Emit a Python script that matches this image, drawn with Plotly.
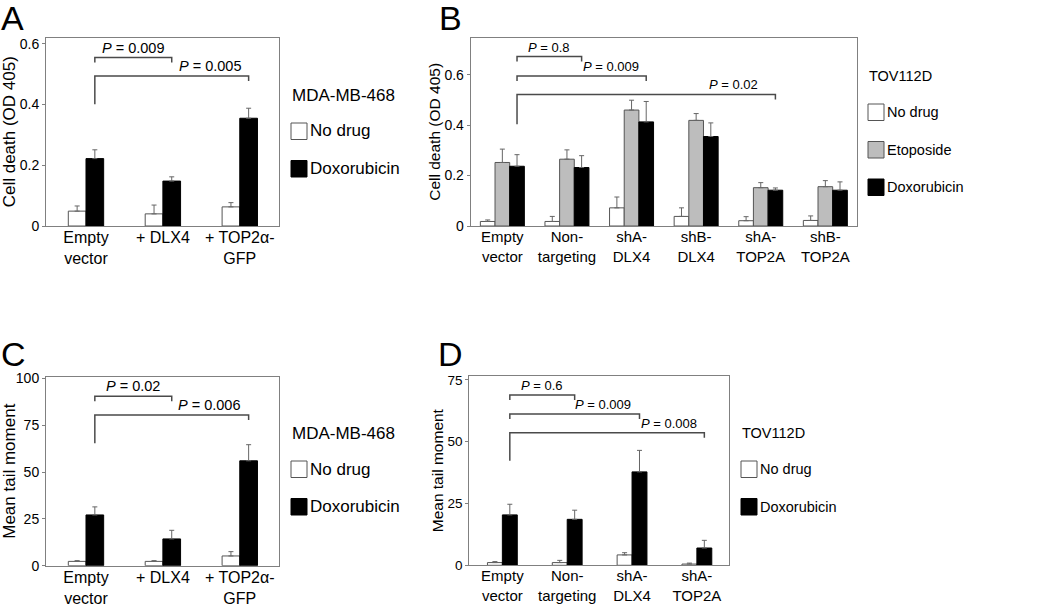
import plotly.graph_objects as go

FONT = "Liberation Sans, Arial, Helvetica, sans-serif"
W, H = 1050, 607

# ---------------- data ----------------
cats_A = ["Empty<br>vector", "+ DLX4", "+ TOP2α-<br>GFP"]
A_nodrug = [0.049, 0.040, 0.063]
A_nodrug_err = [0.017, 0.029, 0.014]
A_dox = [0.222, 0.148, 0.355]
A_dox_err = [0.029, 0.014, 0.033]

cats_B = ["Empty<br>vector", "Non-<br>targeting", "shA-<br>DLX4", "shB-<br>DLX4", "shA-<br>TOP2A", "shB-<br>TOP2A"]
B_nodrug = [0.018, 0.018, 0.072, 0.038, 0.021, 0.022]
B_nodrug_err = [0.006, 0.020, 0.043, 0.034, 0.016, 0.018]
B_etop = [0.252, 0.265, 0.460, 0.419, 0.152, 0.156]
B_etop_err = [0.053, 0.037, 0.039, 0.027, 0.020, 0.024]
B_dox = [0.237, 0.232, 0.413, 0.355, 0.142, 0.142]
B_dox_err = [0.046, 0.047, 0.081, 0.054, 0.009, 0.033]

cats_C = ["Empty<br>vector", "+ DLX4", "+ TOP2α-<br>GFP"]
C_nodrug = [2.3, 2.3, 5.2]
C_nodrug_err = [0.4, 0.4, 2.3]
C_dox = [27.1, 14.3, 56.0]
C_dox_err = [4.3, 4.6, 8.6]

cats_D = ["Empty<br>vector", "Non-<br>targeting", "shA-<br>DLX4", "shA-<br>TOP2A"]
D_nodrug = [1.1, 1.1, 4.2, 0.5]
D_nodrug_err = [0.4, 0.9, 0.9, 0.4]
D_dox = [20.4, 18.6, 37.8, 7.0]
D_dox_err = [4.3, 3.7, 8.7, 3.1]

# significance brackets: target category index, bracket level, p-value text
A_brk_targets = [1, 2]
A_brk_levels = [0.555, 0.494]
A_brk_p = ["0.009", "0.005"]
A_leg_low = 0.401

B_brk_targets = [1, 2, 4]
B_brk_levels = [0.672, 0.595, 0.522]
B_brk_p = ["0.8", "0.009", "0.02"]
B_leg_low = 0.404

C_brk_targets = [1, 2]
C_brk_levels = [90.4, 80.5]
C_brk_p = ["0.02", "0.006"]
C_leg_low = 65.4

D_brk_targets = [1, 2, 3]
D_brk_levels = [68.9, 61.2, 53.6]
D_brk_p = ["0.6", "0.009", "0.008"]
D_leg_low = 42.3

A_yticks = [0, 0.2, 0.4, 0.6]
A_yticktext = ["0", "0.2", "0.4", "0.6"]
B_yticks = [0, 0.2, 0.4, 0.6]
B_yticktext = ["0", "0.2", "0.4", "0.6"]
C_yticks = [0, 25, 50, 75, 100]
D_yticks = [0, 25, 50, 75]

legend_titles = {"A": "MDA-MB-468", "B": "TOV112D", "C": "MDA-MB-468", "D": "TOV112D"}

# ---------------- styling ----------------
COL_WHITE = "white"
COL_GREY = "#bdbdbd"
COL_BLACK = "black"
EDGE = "#555555"
FRAME = "#808080"
BRK = "#4a4a4a"


def px_x(p):
    return p / W


def px_y(p):
    return 1 - p / H


panels = {
    "A": dict(ax="", dom_x=(46, 279), dom_y=(37.5, 226), xr=(-0.52, 2.51), yr=(0, 0.621),
              leg=(291, 95), pshift=[0, -6], standoff=6,
              fs=dict(cat=16, ytitle=17, tick=14, p=14.5, legt=17, leg=17)),
    "B": dict(ax="2", dom_x=(470.7, 857), dom_y=(37.7, 226), xr=(-0.49, 5.49), yr=(0, 0.747),
              leg=(868, 76), pshift=[0, -5, -15], standoff=0,
              fs=dict(cat=15, ytitle=15.5, tick=14, p=13, legt=14.5, leg=14.5)),
    "C": dict(ax="3", dom_x=(46, 279), dom_y=(376.7, 565.7), xr=(-0.52, 2.51), yr=(0, 100.9),
              leg=(291, 433), pshift=[0, -7], standoff=6,
              fs=dict(cat=16, ytitle=17, tick=14, p=14.5, legt=17, leg=17)),
    "D": dict(ax="4", dom_x=(469.3, 729.3), dom_y=(376, 565.3), xr=(-0.51, 3.5), yr=(0, 76.6),
              leg=(741, 433), pshift=[0, -7, -5], standoff=0,
              fs=dict(cat=15, ytitle=15.5, tick=13.5, p=13, legt=14.5, leg=14.5)),
}

fig = go.Figure()
legend_entries = {}


def add_bars(panel, series, width):
    p = panels[panel]
    n = len(series)
    legend_entries[panel] = []
    for i, (name, vals, errs, color) in enumerate(series):
        xs = list(range(len(vals)))
        edge = EDGE if color != COL_BLACK else "black"
        fig.add_trace(go.Bar(
            x=xs, y=vals, name=name,
            xaxis="x" + p["ax"], yaxis="y" + p["ax"],
            width=width, offset=-n * width / 2 + i * width,
            marker=dict(color=color, line=dict(color=edge, width=1)),
            error_y=dict(type="data", symmetric=False, array=errs, arrayminus=[0] * len(vals),
                         color="#666666", thickness=1, width=2.5),
            showlegend=False, hoverinfo="skip",
        ))
        legend_entries[panel].append((name, color, edge))


add_bars("A", [("No drug", A_nodrug, A_nodrug_err, COL_WHITE),
               ("Doxorubicin", A_dox, A_dox_err, COL_BLACK)], 0.23)
add_bars("B", [("No drug", B_nodrug, B_nodrug_err, COL_WHITE),
               ("Etoposide", B_etop, B_etop_err, COL_GREY),
               ("Doxorubicin", B_dox, B_dox_err, COL_BLACK)], 0.227)
add_bars("C", [("No drug", C_nodrug, C_nodrug_err, COL_WHITE),
               ("Doxorubicin", C_dox, C_dox_err, COL_BLACK)], 0.23)
add_bars("D", [("No drug", D_nodrug, D_nodrug_err, COL_WHITE),
               ("Doxorubicin", D_dox, D_dox_err, COL_BLACK)], 0.23)


def add_brackets(panel, targets, levels, pvals, leg_low, ref_offset):
    p = panels[panel]
    xref = "x" + p["ax"]
    yref = "y" + p["ax"]
    h_px = p["dom_y"][1] - p["dom_y"][0]
    drop = 5 * (p["yr"][1] - p["yr"][0]) / h_px
    x0 = 0 + ref_offset
    pfont = dict(size=p["fs"]["p"], family=FONT, color="black")
    for k, (t, lvl, pv) in enumerate(zip(targets, levels, pvals)):
        x1 = t + ref_offset
        left_low = leg_low if k == len(targets) - 1 else lvl - drop
        path = f"M {x0},{left_low} L {x0},{lvl} L {x1},{lvl} L {x1},{lvl - drop}"
        fig.add_shape(type="path", path=path, xref=xref, yref=yref,
                      line=dict(color=BRK, width=1.5))
        if k == 0:
            fig.add_annotation(x=(x0 + x1) / 2, y=lvl, xref=xref, yref=yref,
                               text=f"<i>P</i> = {pv}", showarrow=False,
                               xanchor="center", yanchor="bottom", yshift=0, font=pfont)
        else:
            fig.add_annotation(x=x1, y=lvl, xref=xref, yref=yref,
                               text=f"<i>P</i> = {pv}", showarrow=False,
                               xanchor="right", yanchor="bottom", xshift=p["pshift"][k], yshift=0,
                               font=pfont)


add_brackets("A", A_brk_targets, A_brk_levels, A_brk_p, A_leg_low, 0.115)
add_brackets("B", B_brk_targets, B_brk_levels, B_brk_p, B_leg_low, 0.227)
add_brackets("C", C_brk_targets, C_brk_levels, C_brk_p, C_leg_low, 0.115)
add_brackets("D", D_brk_targets, D_brk_levels, D_brk_p, D_leg_low, 0.115)

layout = dict(
    width=W, height=H, margin=dict(l=0, r=0, t=0, b=0, autoexpand=False),
    paper_bgcolor="white", plot_bgcolor="white",
    barmode="overlay", showlegend=False, hovermode=False,
    font=dict(family=FONT, color="black", size=14),
)

cat_map = {"A": cats_A, "B": cats_B, "C": cats_C, "D": cats_D}
ytick_map = {"A": (A_yticks, A_yticktext), "B": (B_yticks, B_yticktext),
             "C": (C_yticks, [str(v) for v in C_yticks]), "D": (D_yticks, [str(v) for v in D_yticks])}
ytitle_map = {"A": "Cell death (OD 405)", "B": "Cell death (OD 405)",
              "C": "Mean tail moment", "D": "Mean tail moment"}

for key, p in panels.items():
    ax = p["ax"]
    cats = cat_map[key]
    fs = p["fs"]
    layout["xaxis" + ax] = dict(
        domain=[px_x(p["dom_x"][0]), px_x(p["dom_x"][1])],
        anchor="y" + ax, range=list(p["xr"]),
        tickvals=list(range(len(cats))), ticktext=cats,
        showline=True, mirror=True, linecolor=FRAME, linewidth=1,
        ticks="", showgrid=False, zeroline=False, ticklabelstandoff=-3,
        tickfont=dict(size=fs["cat"], family=FONT, color="black"),
        fixedrange=True, automargin=False,
    )
    tv, tt = ytick_map[key]
    layout["yaxis" + ax] = dict(
        domain=[px_y(p["dom_y"][1]), px_y(p["dom_y"][0])],
        anchor="x" + ax, range=list(p["yr"]),
        tickvals=tv, ticktext=tt,
        showline=True, mirror=True, linecolor=FRAME, linewidth=1,
        ticks="outside", ticklen=3, tickcolor=FRAME,
        showgrid=False, zeroline=False,
        tickfont=dict(size=fs["tick"], family=FONT, color="black"),
        title=dict(text=ytitle_map[key], font=dict(size=fs["ytitle"], family=FONT, color="black"),
                   standoff=p["standoff"]),
        fixedrange=True, automargin=False,
    )

fig.update_layout(**layout)

# manual legends (title + swatch + label), placed to the right of each panel
SW = 16
ROW0 = 36   # distance from title centre to first entry centre
ROW = 37.5  # spacing between entries
for key, p in panels.items():
    lx, ly = p["leg"]
    fs = p["fs"]
    fig.add_annotation(x=px_x(lx - 1), y=px_y(ly), xref="paper", yref="paper",
                       text=legend_titles[key], showarrow=False, xanchor="left", yanchor="middle",
                       font=dict(size=fs["legt"], family=FONT, color="black"))
    for j, (name, color, edge) in enumerate(legend_entries[key]):
        cy = ly + ROW0 + j * ROW
        fig.add_shape(type="rect", xref="paper", yref="paper",
                      x0=px_x(lx), x1=px_x(lx + SW), y0=px_y(cy + SW / 2 + 0.5), y1=px_y(cy - SW / 2),
                      fillcolor=color, line=dict(color=edge, width=1))
        fig.add_annotation(x=px_x(lx + SW + 1), y=px_y(cy), xref="paper", yref="paper",
                           text=name, showarrow=False, xanchor="left", yanchor="middle",
                           font=dict(size=fs["leg"], family=FONT, color="black"))

# panel letters
for letter, (lx, ly) in {"A": (-1, -3), "B": (437, -3), "C": (-1, 333), "D": (436, 333)}.items():
    fig.add_annotation(x=px_x(lx), y=px_y(ly), xref="paper", yref="paper",
                       text=letter, showarrow=False, xanchor="left", yanchor="top",
                       font=dict(size=34, family=FONT, color="black"))

fig.write_html("out.html", config={"displayModeBar": False, "staticPlot": True},
               post_script="document.body.style.margin='0';document.body.style.padding='0';")
